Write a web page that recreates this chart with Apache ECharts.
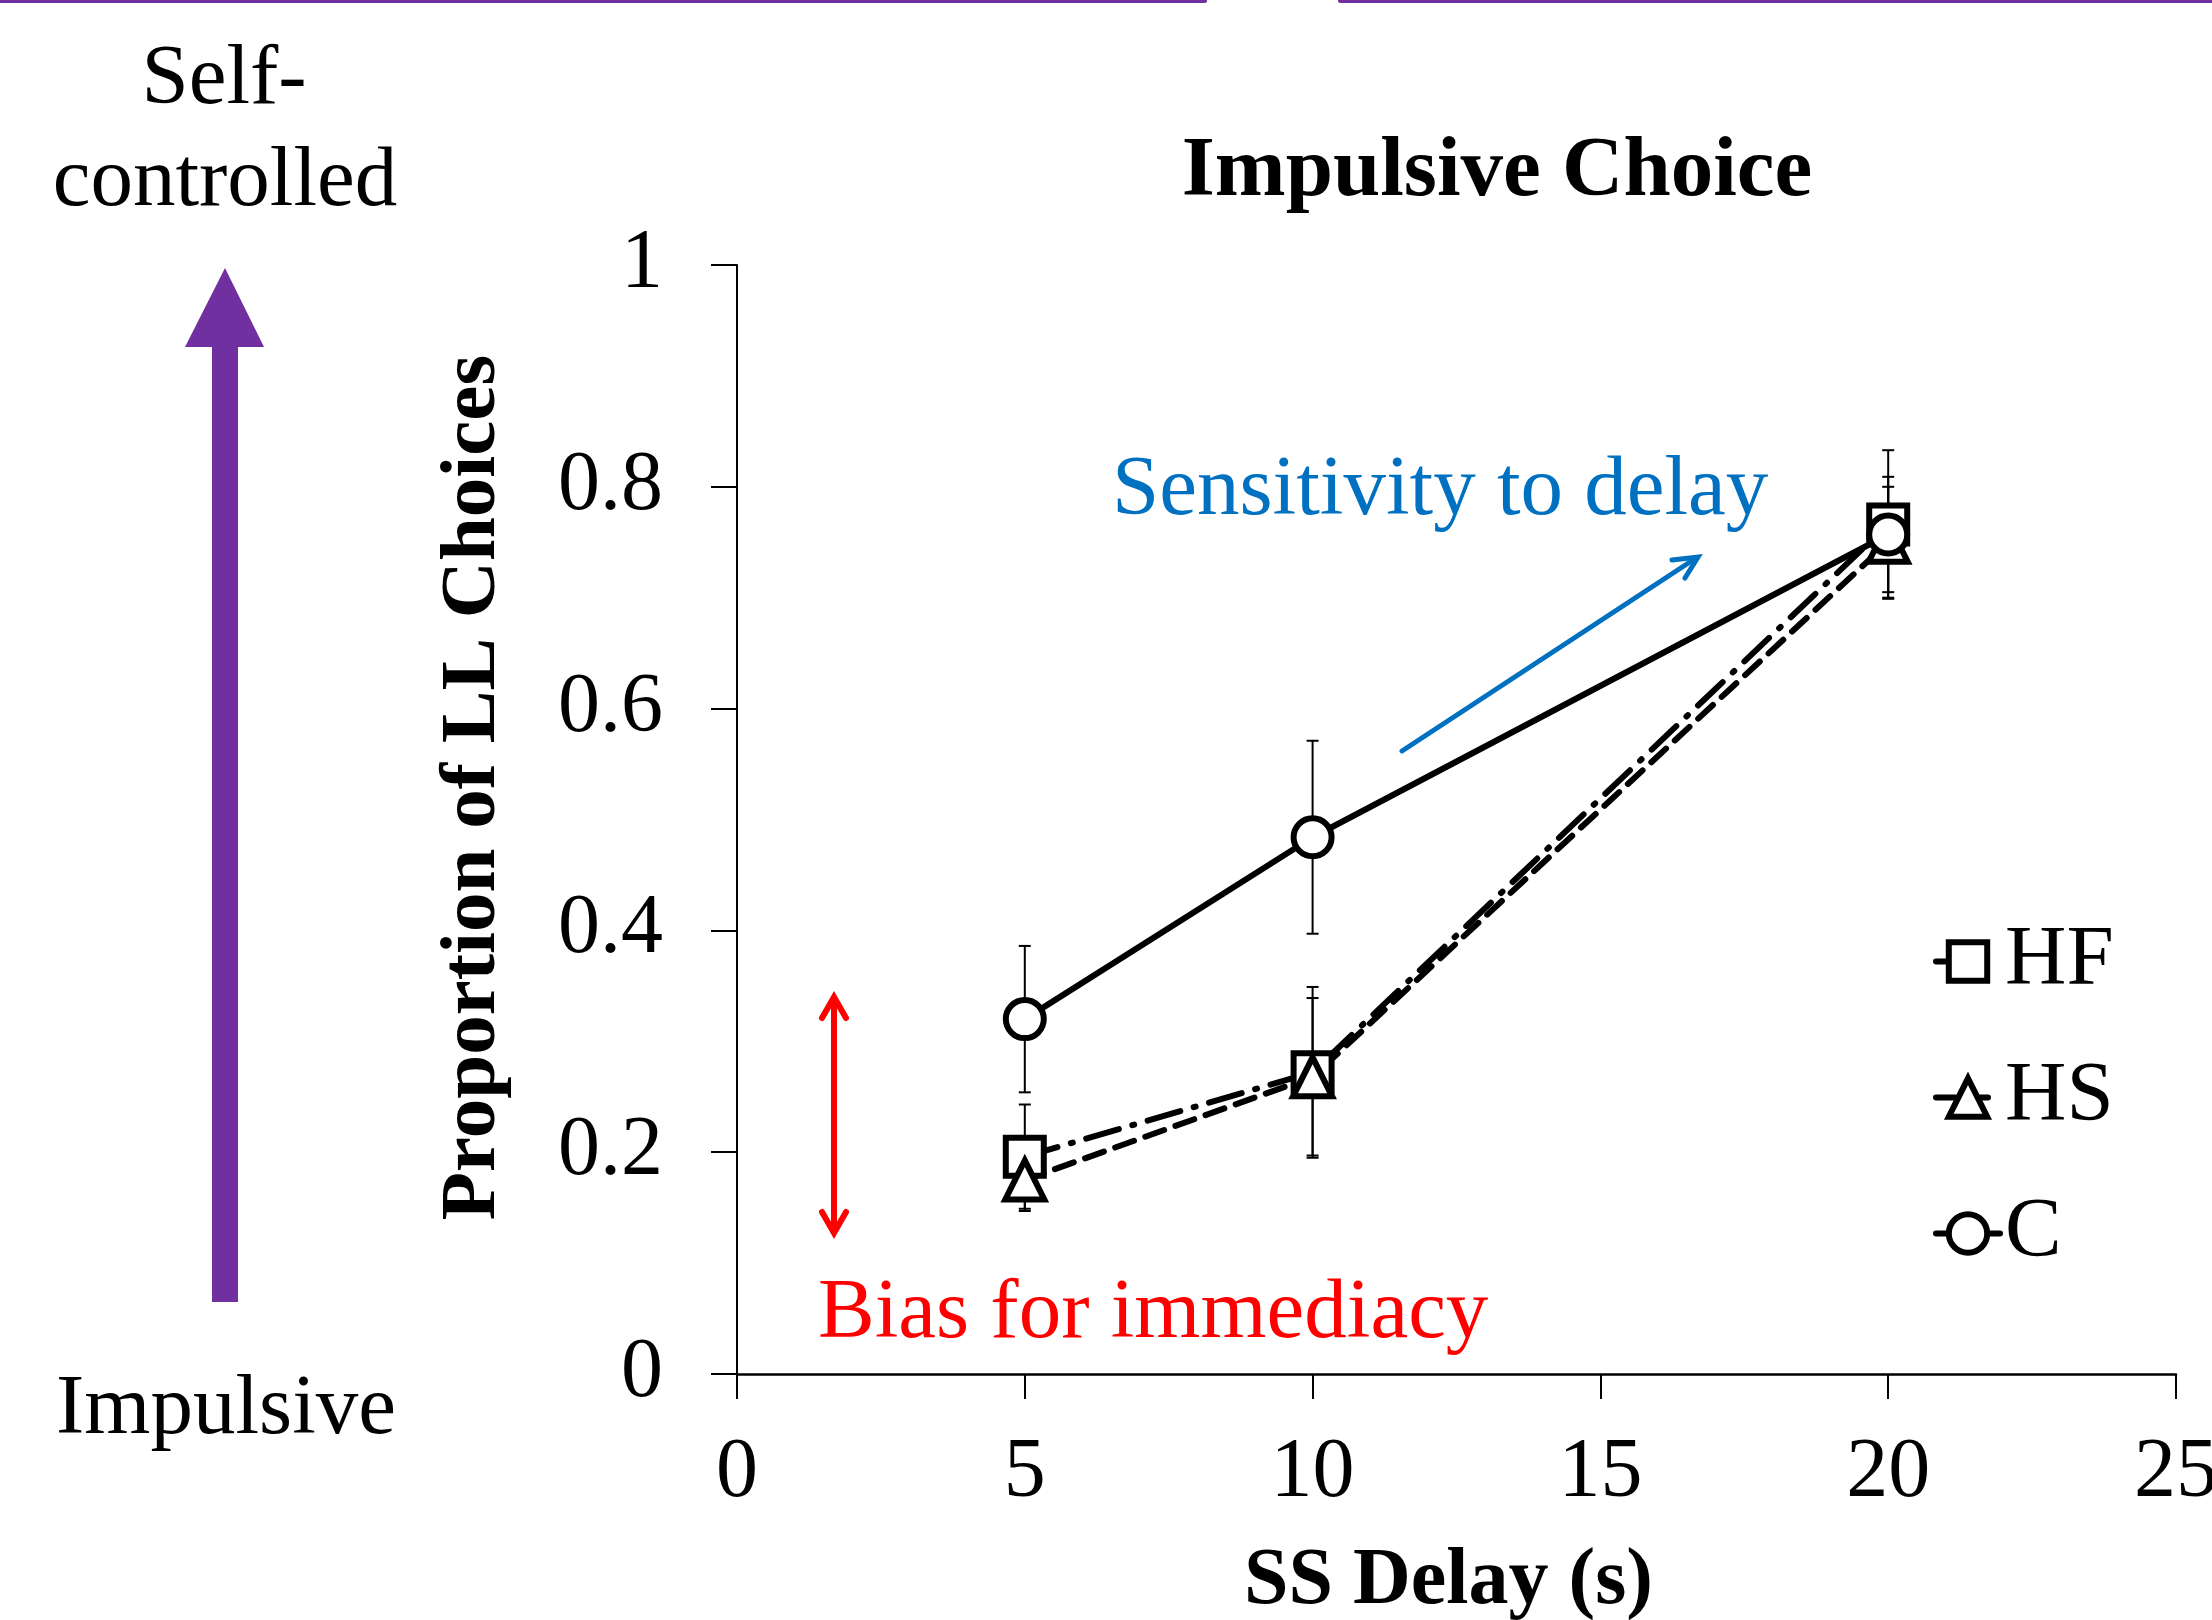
<!DOCTYPE html>
<html><head><meta charset="utf-8">
<script src="https://cdn.jsdelivr.net/npm/echarts@6/dist/echarts.min.js"></script>
<style>html,body{margin:0;padding:0;background:#fff;overflow:hidden}#c{width:2212px;height:1620px}</style>
</head><body><div id="c"></div>
<script>
// ---- data ----
const delays = [5, 10, 20];
const seriesNames = ['HF', 'HS', 'C'];
const hfMean = [0.196, 0.272, 0.766];
const hfErr  = [0.047, 0.077, 0.067];
const hsMean = [0.175, 0.268, 0.750];
const hsErr  = [0.028, 0.071, 0.050];
const cMean  = [0.320, 0.484, 0.757];
const cErr   = [0.066, 0.087, 0.052];
const xTicks = [0, 5, 10, 15, 20, 25];
const yTicks = [0, 0.2, 0.4, 0.6, 0.8, 1];

const FONT = "'Liberation Serif', 'Times New Roman', serif";
const PURPLE = '#7030A0';

function pts(means) { return delays.map((d, i) => [d, means[i]]); }
function errData(means, errs) { return delays.map((d, i) => [d, means[i], errs[i]]); }
function errRender(params, api) {
  const x = api.value(0), m = api.value(1), e = api.value(2);
  const t = api.coord([x, m + e]), b = api.coord([x, m - e]);
  const hw = 6, st = { stroke: '#000', lineWidth: 2 };
  return { type: 'group', children: [
    { type: 'line', shape: { x1: t[0], y1: t[1], x2: b[0], y2: b[1] }, style: st },
    { type: 'line', shape: { x1: t[0] - hw, y1: t[1], x2: t[0] + hw, y2: t[1] }, style: st },
    { type: 'line', shape: { x1: b[0] - hw, y1: b[1], x2: b[0] + hw, y2: b[1] }, style: st }
  ]};
}
function lineSeries(name, means, symbol, size, dash) {
  return {
    name, type: 'line', data: pts(means), symbol, symbolSize: size, z: 3,
    lineStyle: { color: '#000', width: 6, type: dash, cap: 'round' },
    itemStyle: { color: '#fff', borderColor: '#000', borderWidth: 6 },
    emphasis: { disabled: true }
  };
}
function errSeries(name, means, errs) {
  return { name: name + ' error', type: 'custom', renderItem: errRender, data: errData(means, errs), z: 1, silent: true };
}

const chart = echarts.init(document.getElementById('c'), null, { renderer: 'canvas' });
chart.setOption({
  animation: false,
  backgroundColor: '#fff',
  title: {
    text: 'Impulsive Choice', left: 1492, top: 126, textAlign: 'center',
    textStyle: { fontFamily: FONT, fontSize: 85, fontWeight: 'bold', color: '#000', lineHeight: 85 }
  },
  grid: { left: 737, right: 36, top: 265, bottom: 246, containLabel: false, outerBoundsMode: 'none' },
  xAxis: {
    type: 'value', min: 0, max: 25, interval: 5,
    name: 'SS Delay (s)', nameLocation: 'middle', nameGap: 168,
    nameTextStyle: { fontFamily: FONT, fontSize: 80, fontWeight: 'bold', color: '#000', lineHeight: 80, padding: [0, 16, 0, 0] },
    axisLine: { show: true, lineStyle: { color: '#000', width: 2.5 } },
    axisTick: { show: true, length: 25, lineStyle: { color: '#000', width: 2 } },
    axisLabel: { margin: 58, fontFamily: FONT, fontSize: 84, color: '#000', lineHeight: 84,
      formatter: v => xTicks.includes(v) ? String(v) : '' },
    splitLine: { show: false }
  },
  yAxis: {
    type: 'value', min: 0, max: 1, interval: 0.2,
    name: 'Proportion of LL Choices', nameLocation: 'middle', nameGap: 224, nameRotate: 90,
    nameTextStyle: { fontFamily: FONT, fontSize: 79, fontWeight: 'bold', color: '#000', lineHeight: 79, padding: [0, 0, 0, 64] },
    axisLine: { show: true, lineStyle: { color: '#000', width: 2 } },
    axisTick: { show: true, length: 26, lineStyle: { color: '#000', width: 2 } },
    axisLabel: { margin: 74, fontFamily: FONT, fontSize: 84, color: '#000', lineHeight: 84,
      formatter: v => { const t = yTicks.find(k => Math.abs(k - v) < 1e-9); return t === undefined ? '' : String(t); } },
    splitLine: { show: false }
  },
  legend: {
    data: seriesNames, orient: 'vertical', left: 1928, top: 914,
    itemWidth: 64, itemHeight: 48, itemGap: 51,
    itemStyle: { borderWidth: 6 },
    lineStyle: { width: 6, cap: 'round' },
    textStyle: { fontFamily: FONT, fontSize: 85, color: '#000' },
    selectedMode: false
  },
  series: [
    errSeries('HF', hfMean, hfErr),
    errSeries('HS', hsMean, hsErr),
    errSeries('C', cMean, cErr),
    lineSeries('HF', hfMean, 'rect', 38, [34, 14, 2, 14]),
    lineSeries('HS', hsMean, 'triangle', 39, [20, 12]),
    lineSeries('C', cMean, 'circle', 38, 'solid')
  ],
  graphic: [
    { type: 'rect', shape: { x: -10, y: -2, width: 1217, height: 5, r: 3 }, style: { fill: PURPLE } },
    { type: 'rect', shape: { x: 1338, y: -2, width: 900, height: 5, r: 3 }, style: { fill: PURPLE } },
    { type: 'polygon', shape: { points: [[212, 1302], [212, 347], [185, 347], [225, 268], [264, 347], [238, 347], [238, 1302]] }, style: { fill: PURPLE } },
    { type: 'text', style: { x: 224, y: 109 - 28.7, text: 'Self-', font: '85px ' + FONT, fill: '#000', align: 'center', verticalAlign: 'middle' } },
    { type: 'text', style: { x: 225, y: 211 - 28.7, text: 'controlled', font: '85px ' + FONT, fill: '#000', align: 'center', verticalAlign: 'middle' } },
    { type: 'text', style: { x: 226, y: 1439 - 28.7, text: 'Impulsive', font: '85px ' + FONT, fill: '#000', align: 'center', verticalAlign: 'middle' } },
    { type: 'text', style: { x: 1112, y: 520 - 28.7, text: 'Sensitivity to delay', font: '85px ' + FONT, fill: '#0070C0', align: 'left', verticalAlign: 'middle' } },
    { type: 'text', style: { x: 818, y: 1343 - 28.7, text: 'Bias for immediacy', font: '85px ' + FONT, fill: '#FF0000', align: 'left', verticalAlign: 'middle' } },
    { type: 'line', shape: { x1: 1402, y1: 751, x2: 1696, y2: 558 }, style: { stroke: '#0070C0', lineWidth: 5, lineCap: 'round' } },
    { type: 'polyline', shape: { points: [[1672, 560], [1698, 557], [1685, 578]] }, style: { stroke: '#0070C0', lineWidth: 5, lineCap: 'round', lineJoin: 'miter', fill: null } },
    { type: 'line', shape: { x1: 834, y1: 998, x2: 834, y2: 1232 }, style: { stroke: '#FF0000', lineWidth: 6 } },
    { type: 'polyline', shape: { points: [[822, 1018], [834, 997], [846, 1018]] }, style: { stroke: '#FF0000', lineWidth: 6, lineCap: 'round', fill: null } },
    { type: 'polyline', shape: { points: [[822, 1212], [834, 1233], [846, 1212]] }, style: { stroke: '#FF0000', lineWidth: 6, lineCap: 'round', fill: null } }
  ]
});
</script></body></html>
